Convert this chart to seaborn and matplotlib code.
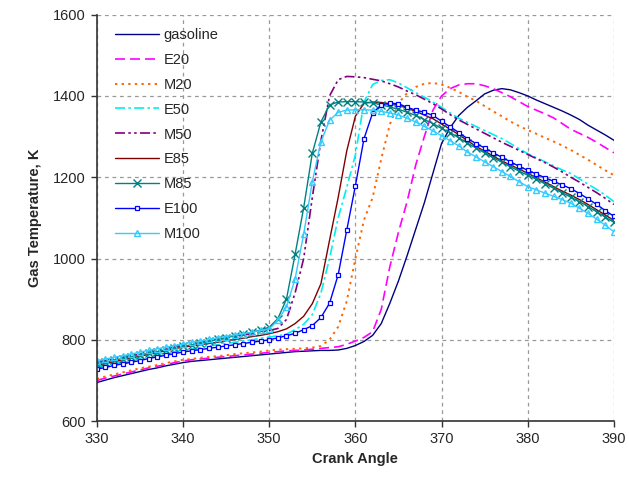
import matplotlib
matplotlib.use("Agg")
import matplotlib.pyplot as plt
import seaborn as sns
import numpy as np
import pandas as pd

crank_angle = list(range(330, 391))

gasoline = [695, 701, 707, 712, 717, 722, 727, 731, 736, 740,
            744, 747, 749, 751, 753, 755, 757, 759, 761, 763,
            765, 767, 769, 771, 772, 773, 774, 774, 775, 779,
            786, 796, 811, 840, 890, 945, 1007, 1072, 1137, 1210,
            1283, 1322, 1352, 1372, 1388, 1405, 1414, 1418, 1415, 1408,
            1400, 1390, 1381, 1372, 1363, 1353, 1342, 1328, 1316, 1304, 1291]
E20 = [700, 706, 711, 716, 721, 726, 731, 735, 739, 744,
       748, 751, 753, 755, 757, 759, 761, 763, 765, 767,
       769, 771, 773, 774, 775, 777, 779, 781, 783, 789,
       797, 806, 820, 875, 980, 1065, 1140, 1230, 1300, 1365,
       1400, 1418, 1427, 1430, 1430, 1425, 1418, 1408, 1398, 1386,
       1374, 1365, 1356, 1346, 1332, 1318, 1308, 1298, 1286, 1273, 1260]
M20 = [704, 710, 715, 720, 725, 730, 734, 738, 743, 747,
       751, 753, 756, 758, 760, 762, 765, 767, 769, 771,
       774, 776, 777, 778, 779, 781, 785, 800, 832, 895,
       1000, 1095, 1150, 1245, 1330, 1382, 1407, 1422, 1430, 1432,
       1428, 1420, 1410, 1398, 1388, 1375, 1362, 1350, 1337, 1326,
       1316, 1307, 1297, 1288, 1278, 1267, 1255, 1243, 1230, 1217, 1205]
E50 = [733, 738, 742, 747, 751, 755, 760, 764, 768, 771,
       775, 778, 781, 785, 788, 791, 794, 797, 800, 804,
       807, 810, 814, 825, 838, 862, 915, 1000, 1100, 1175,
       1255, 1385, 1428, 1438, 1440, 1432, 1420, 1408, 1397, 1385,
       1372, 1358, 1345, 1335, 1325, 1315, 1305, 1295, 1283, 1270,
       1258, 1248, 1238, 1228, 1218, 1209, 1196, 1183, 1170, 1156, 1140]
M50 = [745, 749, 753, 757, 761, 765, 769, 773, 777, 782,
       786, 789, 793, 797, 801, 804, 808, 812, 815, 819,
       823, 828, 850, 915, 1000, 1150, 1290, 1400, 1440, 1448,
       1447, 1445, 1441, 1437, 1430, 1422, 1412, 1403, 1392, 1381,
       1368, 1354, 1341, 1330, 1319, 1308, 1297, 1286, 1276, 1266,
       1256, 1246, 1236, 1225, 1213, 1200, 1188, 1175, 1162, 1148, 1133]
E85 = [737, 742, 746, 751, 755, 760, 764, 769, 773, 778,
       782, 785, 788, 791, 794, 798, 801, 804, 808, 811,
       815, 820, 827, 840, 858, 889, 938, 1045, 1150, 1265,
       1350, 1382, 1385, 1384, 1381, 1377, 1370, 1362, 1353, 1344,
       1331, 1318, 1305, 1290, 1276, 1264, 1252, 1240, 1230, 1220,
       1210, 1199, 1188, 1177, 1166, 1156, 1145, 1133, 1120, 1107, 1094]
M85 = [741, 745, 750, 754, 758, 763, 767, 771, 776, 780,
       784, 788, 792, 796, 801, 805, 810, 814, 819, 824,
       831, 852, 900, 1010, 1125, 1259, 1336, 1378, 1385, 1386,
       1386, 1385, 1383, 1378, 1373, 1367, 1360, 1352, 1342, 1332,
       1320, 1310, 1297, 1284, 1272, 1260, 1248, 1237, 1226, 1215,
       1205, 1195, 1184, 1173, 1162, 1151, 1140, 1128, 1115, 1102, 1089]
E100 = [728, 732, 737, 741, 745, 749, 754, 758, 762, 766,
        770, 773, 776, 779, 782, 785, 788, 791, 794, 797,
        800, 805, 810, 816, 825, 835, 855, 890, 960, 1070,
        1179, 1295, 1358, 1378, 1382, 1381, 1372, 1365, 1360, 1352,
        1338, 1324, 1310, 1295, 1283, 1272, 1260, 1249, 1238, 1227,
        1217, 1208, 1199, 1190, 1181, 1172, 1160, 1147, 1133, 1118, 1104]
M100 = [749, 753, 757, 761, 765, 770, 774, 778, 782, 786,
        790, 794, 797, 801, 805, 808, 812, 815, 819, 823,
        827, 848, 881, 950, 1060, 1189, 1287, 1340, 1360, 1365,
        1366, 1366, 1365, 1362, 1358, 1353, 1345, 1336, 1325, 1314,
        1302, 1290, 1277, 1262, 1250, 1238, 1226, 1214, 1202, 1189,
        1177, 1169, 1161, 1153, 1145, 1136, 1124, 1111, 1097, 1082, 1066]

series_names = ["gasoline", "E20", "M20", "E50", "M50", "E85", "M85", "E100", "M100"]
series_values = [gasoline, E20, M20, E50, M50, E85, M85, E100, M100]
x_ticks = [330, 340, 350, 360, 370, 380, 390]
y_ticks = [600, 800, 1000, 1200, 1400, 1600]

styles = {
    "gasoline": dict(color="#000080", linestyle="-", linewidth=1.0),
    "E20": dict(color="#FF00FF", linestyle=(0, (6, 3)), linewidth=1.2),
    "M20": dict(color="#FF6600", linestyle=(0, (1.2, 2.2)), linewidth=1.4),
    "E50": dict(color="#00F0F0", linestyle=(0, (6, 2, 1.5, 2)), linewidth=1.2),
    "M50": dict(color="#800080", linestyle=(0, (6, 2, 1.5, 2, 1.5, 2)), linewidth=1.2),
    "E85": dict(color="#800000", linestyle="-", linewidth=1.0),
    "M85": dict(color="#008080", linestyle="-", linewidth=1.0, marker="x",
                markersize=5.5, markeredgewidth=1.0, markeredgecolor="#008080"),
    "E100": dict(color="#0000FF", linestyle="-", linewidth=1.0, marker="s",
                 markersize=3.5, markerfacecolor="white", markeredgewidth=0.9,
                 markeredgecolor="#0000FF"),
    "M100": dict(color="#33CCFF", linestyle="-", linewidth=1.0, marker="^",
                 markersize=5, markerfacecolor="none", markeredgewidth=1.0,
                 markeredgecolor="#33CCFF"),
}

sns.set_style("white")
plt.rcParams["font.family"] = ["Liberation Sans", "DejaVu Sans"]

fig = plt.figure(figsize=(6.29, 4.88), dpi=100)
ax = fig.add_axes([0.154, 0.137, 0.822, 0.833])

for name, vals in zip(series_names, series_values):
    df = pd.DataFrame({"Crank Angle": crank_angle, "T": vals})
    sns.lineplot(data=df, x="Crank Angle", y="T", ax=ax, label=name,
                 **styles[name])

ax.set_xlim(330, 390)
ax.set_ylim(600, 1600)
ax.set_xticks(x_ticks)
ax.set_yticks(y_ticks)
ax.tick_params(axis="both", labelsize=10.5, direction="out", length=4,
               width=1, color="#333333", left=True, bottom=True, pad=4)
ax.grid(True, color="#999999", linestyle=(0, (3, 3)), linewidth=0.9)
for s in ["top", "right"]:
    ax.spines[s].set_visible(False)
for s in ["left", "bottom"]:
    ax.spines[s].set_color("#333333")
    ax.spines[s].set_linewidth(1.2)

ax.set_xlabel("Crank Angle", fontsize=10.5, fontweight="bold", labelpad=4)
ax.set_ylabel("Gas Temperature, K", fontsize=10.5, fontweight="bold", labelpad=8)

leg = ax.legend(loc="upper left", bbox_to_anchor=(0.01, 1.0), frameon=False,
                fontsize=10.5, handlelength=3.0, labelspacing=0.75,
                handletextpad=0.3, numpoints=1)

fig.savefig("out.png", dpi=100)
